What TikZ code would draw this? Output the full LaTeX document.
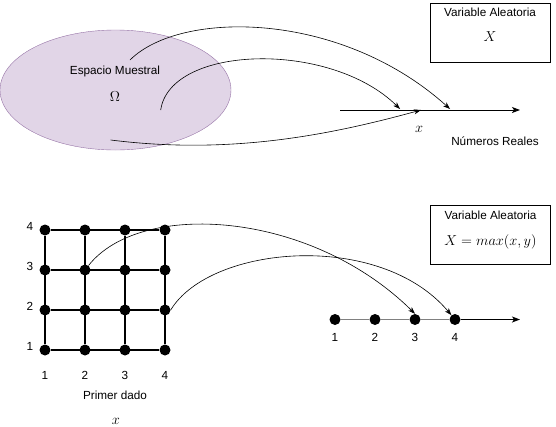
\documentclass[tikz,border=0pt]{standalone}
\usepackage{fontspec}
\setmainfont{Liberation Sans}
\usetikzlibrary{arrows.meta,shapes.geometric}
\definecolor{lila}{HTML}{E1D5E7}
\definecolor{lilaborde}{HTML}{9673A6}
\tikzset{
  punto/.style={circle,fill=black,inner sep=0pt,minimum size=11pt},
  rejilla/.style={line width=1.2pt},
  caja/.style={draw,line width=0.9pt,minimum width=120pt,minimum height=59pt},
  mate/.style={font=\fontsize{14}{16}\selectfont},
  flecha/.style={line width=0.6pt,-{Stealth[length=7pt,width=5pt,inset=2pt]}},
  eje/.style={line width=1pt,-{Stealth[length=8pt,width=6pt,inset=2pt]}},
  gris/.style={line width=1.6pt,gray}
}
\begin{document}
\begin{tikzpicture}[x=1pt,y=-1pt,font=\fontsize{11.75}{14}\selectfont]
\useasboundingbox (0,0) rectangle (556,426);
%espacio muestral
\node[ellipse,draw=lilaborde,fill=lila,minimum width=231pt,minimum height=120pt,inner sep=0pt] (esp) at (115.5,90) {};
\node (em) at (115,71) {Espacio Muestral};
\node[mate] (om) at (115,97) {$\Omega$};
\coordinate (w1) at (130,60);
\coordinate (w2) at (160.7,110);
\coordinate (w3) at (110.7,140);
%recta real
\coordinate (r0) at (340,110);
\coordinate (r1) at (520,110);
\coordinate (a1) at (450,109);
\coordinate (a2) at (400,109);
\coordinate (a3) at (421,110);
\draw[eje] (r0) -- (r1);
\node[mate] (xr) at (419,129) {$x$};
\node (nr) at (495,141) {Números Reales};
\node[caja] (va1) at (490,32.5) {};
\node (va1t) at (490,12) {Variable Aleatoria};
\node[mate] (va1x) at (490,37) {$X$};
\draw[flecha] (w1) .. controls (180,10) and (340,10) .. (a1);
\draw[flecha] (w2) .. controls (170,45) and (330,40) .. (a2);
\draw[flecha] (w3) .. controls (230,155) and (330,135) .. (a3);
%dados
\foreach \i in {1,...,4}{
  \foreach \j in {1,...,4}{
    \node[punto] (d-\i-\j) at ({5+40*\i},{390-40*\j}) {};
  }
  \node (c\i) at ({5+40*\i},375) {\i};
  \node (f\i) at (30,{386.5-40*\i}) {\i};
}
\foreach \k in {1,...,4}{
  \draw[rejilla] (d-\k-1) -- (d-\k-4);
  \draw[rejilla] (d-1-\k) -- (d-4-\k);
}
\node (pd) at (115,395) {Primer dado};
\node[mate] (xd) at (116,421) {$x$};
%max
\foreach \i in {1,...,4}{
  \node[punto] (n\i) at ({295+40*\i},319.5) {};
  \node (m\i) at ({295+40*\i},337) {\i};
}
\coordinate (fin) at (520,319.5);
\draw[gris] (n1) -- (n2) -- (n3) -- (n4);
\draw[eje] (n4) -- (fin);
\node[caja] (va2) at (490.5,234.5) {};
\node (va2t) at (490.5,215) {Variable Aleatoria};
\node[mate] (va2x) at (490.5,242) {$X=max(x,y)$};
\draw[flecha] (d-2-3) .. controls (140,200) and (310,210) .. (n3.north);
\draw[flecha] (d-4-2.east) .. controls (210,245) and (380,230) .. (n4);
\end{tikzpicture}
\end{document}
